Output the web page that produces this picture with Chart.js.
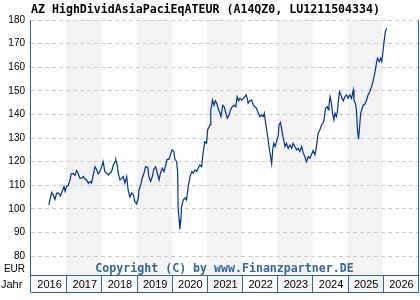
<!DOCTYPE html>
<html>
<head>
<meta charset="utf-8">
<script src="https://cdn.jsdelivr.net/npm/chart.js@4"></script>
<style>
  html, body { margin: 0; padding: 0; background: #fff; }
  #wrap { width: 420px; height: 300px; }
</style>
</head>
<body>
<div id="wrap"><canvas id="myChart" width="420" height="300"></canvas></div>
<script>
// chart data
const title = "AZ HighDividAsiaPaciEqATEUR (A14QZ0, LU1211504334)";
const years = [2016, 2017, 2018, 2019, 2020, 2021, 2022, 2023, 2024, 2025, 2026];
const yTicks = [80, 90, 100, 110, 120, 130, 140, 150, 160, 170, 180];
const dates = [
  2016.51, 2016.54, 2016.59, 2016.63, 2016.68, 2016.73, 2016.78, 2016.84, 2016.90, 2016.94, 2016.97,
  2017.01, 2017.06, 2017.11, 2017.14, 2017.20, 2017.25, 2017.30, 2017.34, 2017.39, 2017.44, 2017.49,
  2017.53, 2017.58, 2017.63, 2017.68, 2017.72, 2017.77, 2017.82, 2017.87, 2017.91, 2017.96,
  2018.01, 2018.05, 2018.10, 2018.15, 2018.20, 2018.24, 2018.29, 2018.34, 2018.39, 2018.41, 2018.45,
  2018.48, 2018.53, 2018.58, 2018.62, 2018.67, 2018.72, 2018.76, 2018.81, 2018.86, 2018.91, 2018.95,
  2019.00, 2019.05, 2019.07, 2019.12, 2019.16, 2019.21, 2019.26, 2019.32, 2019.35, 2019.40, 2019.45,
  2019.49, 2019.54, 2019.59, 2019.64, 2019.68, 2019.73, 2019.78, 2019.83, 2019.87, 2019.92, 2019.97,
  2020.01, 2020.06, 2020.09, 2020.14, 2020.17, 2020.18, 2020.21, 2020.23, 2020.26, 2020.28, 2020.33,
  2020.38, 2020.42, 2020.47, 2020.52, 2020.57, 2020.61, 2020.66, 2020.71, 2020.75, 2020.80, 2020.85,
  2020.89, 2020.94, 2020.99, 2021.02, 2021.09, 2021.11, 2021.16, 2021.20, 2021.24, 2021.28, 2021.32,
  2021.37, 2021.40, 2021.45, 2021.49, 2021.54, 2021.58, 2021.63, 2021.67, 2021.72, 2021.77, 2021.82,
  2021.86, 2021.90, 2021.94, 2021.99, 2022.03, 2022.08, 2022.11, 2022.15, 2022.17, 2022.22, 2022.27,
  2022.32, 2022.36, 2022.41, 2022.46, 2022.51, 2022.55, 2022.60, 2022.63, 2022.67, 2022.70, 2022.74,
  2022.77, 2022.81, 2022.84, 2022.87, 2022.90, 2022.94, 2022.98, 2023.03, 2023.05, 2023.09, 2023.12,
  2023.17, 2023.22, 2023.26, 2023.31, 2023.36, 2023.41, 2023.45, 2023.50, 2023.55, 2023.59, 2023.64,
  2023.69, 2023.74, 2023.78, 2023.83, 2023.88, 2023.93, 2023.97, 2024.02, 2024.07, 2024.10, 2024.13,
  2024.16, 2024.21, 2024.26, 2024.30, 2024.33, 2024.37, 2024.42, 2024.45, 2024.47, 2024.50, 2024.54,
  2024.57, 2024.61, 2024.64, 2024.68, 2024.71, 2024.74, 2024.77, 2024.81, 2024.84, 2024.88, 2024.92,
  2024.97, 2025.01, 2025.06, 2025.11, 2025.16, 2025.18, 2025.22, 2025.25, 2025.28, 2025.31, 2025.34,
  2025.37, 2025.40, 2025.44, 2025.49, 2025.54, 2025.58, 2025.63, 2025.68, 2025.72, 2025.77, 2025.82,
  2025.85, 2025.90, 2025.94, 2025.97, 2026.01, 2026.04, 2026.07, 2026.11
];
const prices = [
  101.7, 104, 107, 106, 104, 106.7, 106.7, 105.5, 108, 109.5, 107.4,
  109.5, 110, 112.3, 114.8, 115, 114.3, 116.2, 115, 113, 113, 113.7,
  112.6, 112.3, 110.9, 111.6, 110.9, 114.4, 117.9, 116.5, 114.8, 115.8,
  117.9, 120, 115.8, 115.1, 114.4, 115.1, 115.8, 118.6, 120, 120.7, 118.6,
  115.1, 112.3, 113, 113.7, 110.9, 113.7, 108, 105, 106.7, 106, 103.1,
  102.1, 104.6, 108, 110.1, 113, 115.1, 117.9, 117.6, 113.7, 111.6, 113.7,
  116.8, 117.9, 115.1, 112.3, 115.1, 117.2, 115.8, 118.6, 121, 121, 123.3,
  125, 124.3, 121, 120, 115.1, 101, 95.4, 91.4, 95.4, 101, 103.8,
  104.6, 103.8, 109.5, 113.7, 115.8, 115.1, 116.5, 115.8, 117.2, 118.6, 117.9,
  123.6, 128.5, 127.8, 133.4, 135.6, 141.9, 146.1, 143.9, 145.8, 144.7, 142.6,
  140.5, 139.1, 143.9, 143.3, 140.5, 138.4, 139.8, 141.9, 143.3, 143.9, 143.3,
  147.5, 145.8, 146.8, 146.1, 146.8, 147.5, 148.3, 146.8, 144.7, 145.8, 146.1,
  143.9, 143.3, 142.6, 140.5, 139.1, 139.8, 139.1, 140.5, 136.3, 133.4, 129.2,
  125.7, 122.2, 119.1, 125, 127.8, 126.4, 128.5, 131.3, 135.6, 136.6, 134.2,
  130, 126.4, 127.8, 125.7, 127.1, 125.7, 127.8, 126.4, 125, 125.7, 124.3,
  126.4, 123.6, 122.2, 120, 122.2, 121.5, 122.9, 124.7, 122.9, 125, 128.5,
  132, 133.4, 135.6, 136.3, 137.7, 142.6, 143.3, 141.9, 143.9, 147.5, 144.7,
  140.5, 137.7, 140.5, 139.1, 141.2, 146.1, 149.6, 148.3, 146.8, 145.8, 147.5,
  148.3, 146.8, 148.3, 146.8, 150.4, 146.1, 144.7, 141.9, 133.4, 129.5, 134.8,
  140.5, 141.9, 143.9, 144.4, 146.1, 148.3, 149.6, 151.8, 153.9, 157.4, 161.7,
  163.8, 162.4, 163.8, 162.4, 167.3, 171.5, 175, 176.5
];

const frameBlue = '#336699';
const bandGray = '#f3f3f3';

// bands, boxes and extra labels drawn around the chart
const decor = {
  id: 'decor',
  beforeDraw(chart) {
    const ctx = chart.ctx;
    const area = chart.chartArea;
    const x = chart.scales.x;
    ctx.save();
    years.forEach(function (yr, i) {
      if (i % 2 === 1) {
        const x1 = x.getPixelForValue(yr);
        const x2 = x.getPixelForValue(yr + 1);
        ctx.fillStyle = bandGray;
        ctx.fillRect(x1, area.top, x2 - x1, area.bottom + 17 - area.top);
      }
    });
    ctx.restore();
  },
  afterDraw(chart) {
    const ctx = chart.ctx;
    const area = chart.chartArea;
    const x = chart.scales.x;
    const boxTop = area.bottom + 0.5;
    const boxBottom = area.bottom + 17.5;
    ctx.save();
    ctx.strokeStyle = frameBlue;
    ctx.lineWidth = 1;
    // frame sides
    ctx.beginPath();
    ctx.moveTo(Math.round(area.left) - 0.5, area.top);
    ctx.lineTo(Math.round(area.left) - 0.5, boxBottom);
    ctx.moveTo(Math.round(area.right) + 0.5, area.top);
    ctx.lineTo(Math.round(area.right) + 0.5, boxBottom);
    ctx.moveTo(area.left, boxTop);
    ctx.lineTo(area.right, boxTop);
    ctx.moveTo(area.left, boxBottom);
    ctx.lineTo(area.right, boxBottom);
    years.forEach(function (yr) {
      const px = Math.round(x.getPixelForValue(yr + 1)) + 0.5;
      ctx.moveTo(px, boxTop);
      ctx.lineTo(px, boxBottom);
    });
    ctx.stroke();

    // year labels
    ctx.fillStyle = '#000';
    ctx.font = '11px "Liberation Sans", Arial, sans-serif';
    ctx.textAlign = 'center';
    ctx.textBaseline = 'alphabetic';
    years.forEach(function (yr) {
      const cx = (x.getPixelForValue(yr) + x.getPixelForValue(yr + 1)) / 2;
      ctx.fillText(String(yr), cx + 1, boxBottom - 4.5);
    });
    ctx.textAlign = 'left';
    ctx.fillText('Jahr', 1, boxBottom - 4.5);
    ctx.font = '10px "Liberation Sans", Arial, sans-serif';
    ctx.textAlign = 'right';
    ctx.fillText('EUR', 25, area.bottom - 3);

    // title
    ctx.font = 'bold 11.6px "DejaVu Sans Mono", monospace';
    ctx.textAlign = 'left';
    ctx.fillStyle = '#000';
    ctx.fillText(title, 31, 13);

    // copyright
    ctx.font = 'bold 11.6px "DejaVu Sans Mono", monospace';
    ctx.textAlign = 'center';
    ctx.fillStyle = frameBlue;
    ctx.fillText('Copyright (C) by www.Finanzpartner.DE', (area.left + area.right) / 2, area.bottom - 3);
    ctx.restore();
  }
};

const points = dates.map(function (d, i) { return { x: d, y: prices[i] }; });

new Chart('myChart', {
  type: 'line',
  data: {
    datasets: [{
      data: points,
      borderColor: '#003399',
      borderWidth: 1.2,
      pointRadius: 0,
      tension: 0,
      fill: false
    }]
  },
  options: {
    responsive: false,
    animation: false,
    layout: { padding: { top: 20, right: 2, bottom: 25, left: 0 } },
    plugins: {
      legend: { display: false },
      title: { display: false },
      tooltip: { enabled: false }
    },
    scales: {
      x: {
        type: 'linear',
        display: false,
        min: 2016,
        max: 2027
      },
      y: {
        min: 72,
        max: 180,
        afterBuildTicks: function (axis) {
          axis.ticks = yTicks.map(function (v) { return { value: v }; });
        },
        afterFit: function (axis) { axis.width = 31; },
        grid: {
          color: '#cccccc',
          lineWidth: 1,
          drawTicks: false
        },
        border: { display: false, dash: [4, 3] },
        ticks: {
          padding: 6,
          color: '#000',
          font: { family: '"Liberation Sans", Arial, sans-serif', size: 10 }
        }
      }
    }
  },
  plugins: [decor]
});
</script>
</body>
</html>
